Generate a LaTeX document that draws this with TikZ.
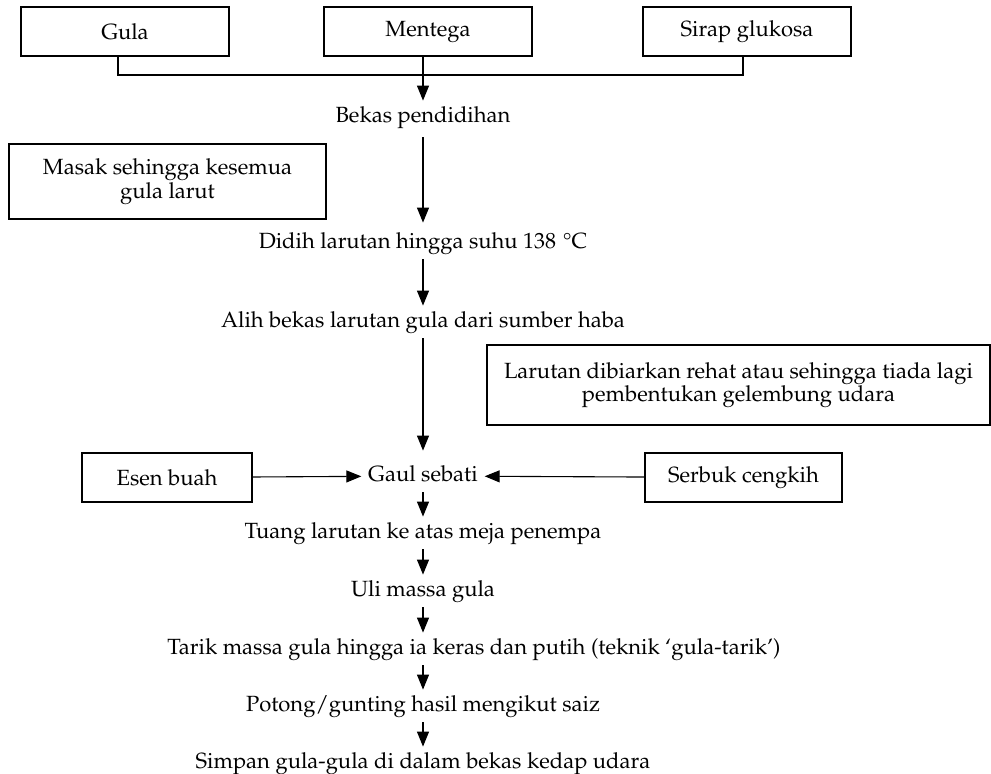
\documentclass[tikz,border=0pt]{standalone}
\usepackage[T1]{fontenc}
\usepackage{mathpazo}
\usepackage{tikz}
\usetikzlibrary{arrows.meta,positioning}

\begin{document}
\begin{tikzpicture}[
  x=0.5pt,y=-0.5pt,
  box/.style={draw, line width=0.6pt, align=center, inner sep=0pt, minimum height=24.5pt, font=\fontsize{11}{11.8}\selectfont},
  txt/.style={inner xsep=3.25pt, inner ysep=2.75pt, text height=8pt, text depth=2.5pt, font=\fontsize{11}{12}\selectfont},
  arr/.style={-{Triangle[length=7.5pt,width=6pt]}, line width=0.55pt}
]
\useasboundingbox (0,0) rectangle (991,774);
% ingredients
\node[box, minimum width=104pt] (gula) at (125,31.5) {Gula};
\node[box, minimum width=104pt] (ment) at (428,31.5) {Mentega};
\node[box, minimum width=104pt] (sirap) at (747,31.5) {Sirap glukosa};
\coordinate (jl) at (118,75);
\coordinate (jr) at (743,75);
% main flow
\node[txt] (bekas) at (423,117) {Bekas pendidihan};
\node[txt] (didih) at (423,243) {Didih larutan hingga suhu 138\hspace{0.3em}\textdegree C};
\node[txt] (alih) at (423,322) {Alih bekas larutan gula dari sumber haba};
\node[txt] (gaul) at (423,476) {Gaul sebati};
\node[txt] (tuang) at (423,533) {Tuang larutan ke atas meja penempa};
\node[txt] (uli) at (423,591) {Uli massa gula};
\node[txt] (tarik) at (474,649) {Tarik massa gula hingga ia keras dan putih (teknik `gula-tarik')};
\node[txt] (potong) at (423,706) {Potong/gunting hasil mengikut saiz};
\node[txt] (simpan) at (423,763) {Simpan gula-gula di dalam bekas kedap udara};
% notes and additions
\node[box, minimum width=158.5pt, minimum height=37.5pt] (masak) at (167.5,181.5) {Masak sehingga kesemua\\gula larut};
\node[box, minimum width=251.5pt, minimum height=40pt] (rehat) at (738.5,385) {Larutan dibiarkan rehat atau sehingga tiada lagi\\pembentukan gelembung udara};
\node[box, minimum width=85pt] (esen) at (167,477.5) {Esen buah};
\node[box, minimum width=98.5pt] (serbuk) at (743.5,477.5) {Serbuk cengkih};

\draw[line width=0.55pt] (gula.south -| jl) -- (jl) -- (jr) -- (sirap.south -| jr);
\draw[arr] (ment.south -| bekas.north) -- (bekas.north);
\draw[arr, shorten <=2pt, shorten >=2pt] (bekas) -- (didih);
\draw[arr] (didih) -- (alih);
\draw[arr, shorten >=4.5pt] (alih) -- (gaul);
\draw[arr] (esen) -- (gaul);
\draw[arr] (serbuk) -- (gaul);
\draw[arr] (gaul) -- (tuang);
\draw[arr] (tuang) -- (uli);
\draw[arr] (uli) -- (tarik.north -| uli);
\draw[arr] (tarik.south -| potong) -- (potong);
\draw[arr] (potong) -- (simpan);
\end{tikzpicture}
\end{document}
